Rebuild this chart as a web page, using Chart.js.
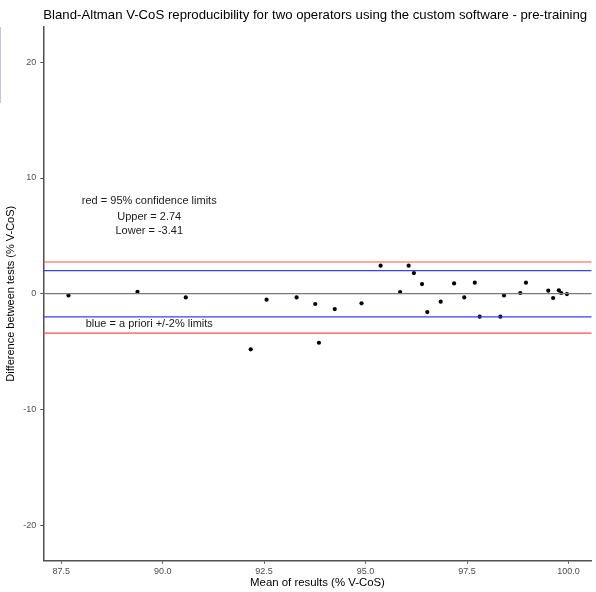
<!DOCTYPE html>
<html>
<head>
<meta charset="utf-8">
<script src="https://cdn.jsdelivr.net/npm/chart.js@4.4.1/dist/chart.umd.min.js"></script>
<style>
  html, body { margin: 0; padding: 0; background: #fff; }
  #wrap { position: relative; width: 596px; height: 592px; }
  #edge { position: absolute; left: 0; top: 27px; width: 1px; height: 76px; background: #c4c4d4; }
</style>
</head>
<body>
<div id="wrap"><canvas id="chart"></canvas><div id="edge"></div></div>
<script>
// mean of the two operators (x) and their difference (y)
const meanVals = [87.68, 89.38, 90.57, 92.17, 92.56, 93.30, 93.76, 93.85, 94.24, 94.90,
                  95.37, 95.85, 96.06, 96.19, 96.39, 96.52, 96.85, 97.18, 97.43, 97.69,
                  97.81, 98.32, 98.41, 98.81, 98.95, 99.50, 99.62, 99.76, 99.82, 99.96];
const diffVals = [-0.15, 0.15, -0.32, -4.81, -0.52, -0.32, -0.89, -4.24, -1.33, -0.83,
                  2.42, 0.14, 2.42, 1.78, 0.83, -1.59, -0.69, 0.89, -0.32, 0.95,
                  -1.99, -1.99, -0.15, 0.06, 0.95, 0.26, -0.37, 0.29, 0.06, -0.03];

const upperCL = 2.74;
const lowerCL = -3.41;
const aprioriLimit = 2;

const xTicks = [87.5, 90.0, 92.5, 95.0, 97.5, 100.0];
const yTicks = [-20, -10, 0, 10, 20];
const xMin = 87.06, xMax = 100.57;
const yMin = -23.08, yMax = 23.08;

const titleText = 'Bland-Altman V-CoS reproducibility for two operators using the custom software - pre-training';
const noteTexts = ['red = 95% confidence limits', 'Upper = 2.74', 'Lower = -3.41', 'blue = a priori +/-2% limits'];
const noteX = [89.67, 89.67, 89.67, 89.67];
const noteY = [7.98, 6.65, 5.38, -2.6];

const fontName = '"Liberation Sans", Arial, sans-serif';
Chart.defaults.font.family = fontName;

const hline = (v, color) => ({
    data: [{ x: xMin, y: v }, { x: xMax, y: v }],
    showLine: true,
    borderColor: color,
    borderWidth: 1.2,
    pointRadius: 0
});

const notesPlugin = {
    id: 'notes',
    afterDatasetsDraw(chart) {
        const { ctx, chartArea, scales: { x, y } } = chart;
        ctx.save();
        ctx.fillStyle = '#000';
        ctx.textBaseline = 'middle';
        ctx.textAlign = 'left';
        ctx.font = '13.2px ' + fontName;
        ctx.fillText(titleText, chartArea.left, 15);
        ctx.font = '11px ' + fontName;
        ctx.textAlign = 'center';
        ctx.fillStyle = '#1a1a1a';
        noteTexts.forEach((t, i) => {
            ctx.fillText(t, x.getPixelForValue(noteX[i]), y.getPixelForValue(noteY[i]));
        });
        ctx.restore();
    }
};

const axisColor = '#505050';
const tickFont = { family: fontName, size: 9 };

new Chart(document.getElementById('chart'), {
    type: 'scatter',
    data: {
        datasets: [
            hline(upperCL, '#ff5050'),
            hline(lowerCL, '#ff5050'),
            hline(aprioriLimit, '#3c3cff'),
            hline(-aprioriLimit, '#3c3cff'),
            hline(0, '#7a7a7a'),
            {
                data: meanVals.map((m, i) => ({ x: m, y: diffVals[i] })),
                backgroundColor: '#000',
                borderWidth: 0,
                pointRadius: 2.1
            }
        ]
    },
    options: {
        responsive: true,
        maintainAspectRatio: false,
        animation: false,
        layout: { padding: { top: 26.7, right: 4.3, left: 0, bottom: 0 } },
        plugins: {
            legend: { display: false },
            tooltip: { enabled: false },
            title: { display: false }
        },
        scales: {
            x: {
                type: 'linear',
                min: xMin,
                max: xMax,
                afterBuildTicks: s => { s.ticks = xTicks.map(v => ({ value: v })); },
                afterFit: s => { s.height = 31.3; },
                ticks: {
                    callback: v => v.toFixed(1),
                    color: '#4d4d4d', font: tickFont, padding: 2,
                    maxRotation: 0, autoSkip: false
                },
                grid: { drawOnChartArea: false, drawTicks: true, tickLength: 3, color: axisColor },
                border: { display: true, color: axisColor, width: 1.5 },
                title: {
                    display: true, text: 'Mean of results (% V-CoS)', color: '#000',
                    font: { family: fontName, size: 11.4 }, padding: { top: 0, bottom: 2.5 }
                }
            },
            y: {
                type: 'linear',
                min: yMin,
                max: yMax,
                afterBuildTicks: s => { s.ticks = yTicks.map(v => ({ value: v })); },
                afterFit: s => { s.width = 43.3; },
                ticks: { color: '#4d4d4d', font: tickFont, padding: 4, autoSkip: false },
                grid: { drawOnChartArea: false, drawTicks: true, tickLength: 3, color: axisColor },
                border: { display: true, color: axisColor, width: 1.5 },
                title: {
                    display: true, text: 'Difference between tests (% V-CoS)', color: '#000',
                    font: { family: fontName, size: 11 }, padding: { top: 4, bottom: 0 }
                }
            }
        }
    },
    plugins: [notesPlugin]
});
</script>
</body>
</html>
